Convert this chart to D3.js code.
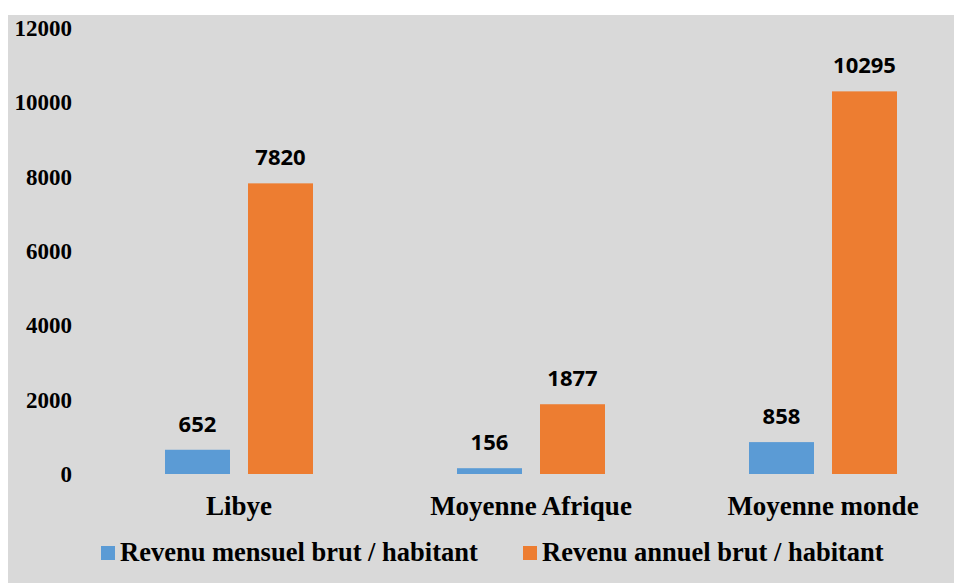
<!DOCTYPE html>
<html>
<head>
<meta charset="utf-8">
<script src="https://cdn.jsdelivr.net/npm/d3@7"></script>
<style>
  body { margin: 0; background: #ffffff; }
  svg { display: block; }
</style>
</head>
<body>
<svg id="chart"></svg>
<script>
// chart data
var categories = ["Libye", "Moyenne Afrique", "Moyenne monde"];
var seriesNames = ["Revenu mensuel brut / habitant", "Revenu annuel brut / habitant"];
var mensuel = [652, 156, 858];
var annuel = [7820, 1877, 10295];
var yTicks = [0, 2000, 4000, 6000, 8000, 10000, 12000];
var colors = ["#5B9BD5", "#ED7D31"];

var width = 955, height = 583;

var svg = d3.select("#chart")
  .attr("width", width)
  .attr("height", height);

// gray chart area
svg.append("rect")
  .attr("x", 8).attr("y", 15)
  .attr("width", 946).attr("height", height - 15)
  .attr("fill", "#D9D9D9");

var y = d3.scaleLinear().domain([0, 12000]).range([474, 28]);

var x = d3.scaleBand().domain(categories).range([93, 969]);
var xs = d3.scaleBand().domain([0, 1]).range([0, 148]).paddingInner(0.217);

// y tick labels
svg.append("g")
  .selectAll("text")
  .data(yTicks)
  .enter().append("text")
  .attr("x", 72)
  .attr("y", function(d) { return y(d) + 8; })
  .attr("text-anchor", "end")
  .style("font-family", "'Liberation Serif', 'Times New Roman', serif")
  .style("font-weight", "bold")
  .style("font-size", "23px")
  .text(function(d) { return d; });

var rows = categories.map(function(c, i) {
  return { cat: c, values: [mensuel[i], annuel[i]] };
});

var groups = svg.append("g")
  .selectAll("g")
  .data(rows)
  .enter().append("g")
  .attr("transform", function(d) {
    return "translate(" + (x(d.cat) + x.bandwidth() / 2 - 74) + ",0)";
  });

groups.selectAll("rect")
  .data(function(d) { return d.values; })
  .enter().append("rect")
  .attr("x", function(d, i) { return xs(i); })
  .attr("y", function(d) { return y(d); })
  .attr("width", xs.bandwidth())
  .attr("height", function(d) { return y(0) - y(d); })
  .attr("fill", function(d, i) { return colors[i]; });

// value labels
groups.selectAll("text")
  .data(function(d) { return d.values; })
  .enter().append("text")
  .attr("x", function(d, i) { return xs(i) + xs.bandwidth() / 2; })
  .attr("y", function(d) { return y(d) - 18; })
  .attr("text-anchor", "middle")
  .style("font-family", "'Open Sans', sans-serif")
  .style("font-weight", "bold")
  .style("font-size", "22px")
  .style("fill", "#000")
  .text(function(d) { return d; });

// category labels
svg.append("g")
  .selectAll("text")
  .data(categories)
  .enter().append("text")
  .attr("x", function(d) { return x(d) + x.bandwidth() / 2; })
  .attr("y", 515)
  .attr("text-anchor", "middle")
  .style("font-family", "'Liberation Serif', 'Times New Roman', serif")
  .style("font-weight", "bold")
  .style("font-size", "27px")
  .text(function(d) { return d; });

// legend
var legendX = [101, 523];
var legend = svg.append("g")
  .selectAll("g")
  .data(seriesNames)
  .enter().append("g")
  .attr("transform", function(d, i) { return "translate(" + legendX[i] + ",546)"; });

legend.append("rect")
  .attr("width", 14).attr("height", 14)
  .attr("fill", function(d, i) { return colors[i]; });

legend.append("text")
  .attr("x", 19)
  .attr("y", 15)
  .style("font-family", "'Liberation Serif', 'Times New Roman', serif")
  .style("font-weight", "bold")
  .style("font-size", "26.5px")
  .text(function(d) { return d; });
</script>
</body>
</html>
